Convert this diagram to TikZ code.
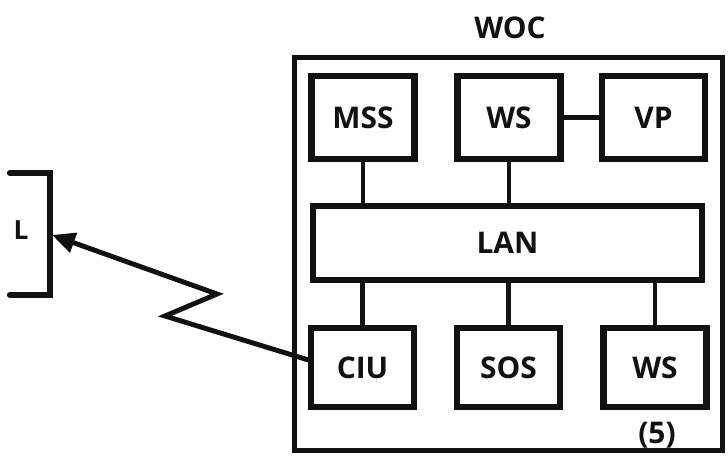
\documentclass[tikz,border=0pt]{standalone}
\usepackage{fontspec}
\setmainfont{Open Sans}
\usepackage{xcolor}
\usepackage{tikz}
\usetikzlibrary{arrows.meta,positioning}
\definecolor{wocInk}{HTML}{111111}
\tikzset{
  woc diagram/.style={font=\fontsize{17}{20}\selectfont\bfseries, text=wocInk,
    line cap=round, line join=miter},
  woc box/.style={draw=wocInk, fill=white, line width=3.6pt,
    minimum width=2.06cm, minimum height=1.66cm, inner sep=0pt},
  woc low box/.style={woc box, minimum height=1.58cm},
  woc frame/.style={draw=wocInk, line width=3pt, inner sep=0pt},
  woc link/.style={draw=wocInk, line width=2.6pt},
  woc arrow/.style={-{Triangle[length=4.6mm,width=4mm]}, draw=wocInk,
    line width=2.8pt, line join=miter},
  woc label/.style={inner sep=0pt}
}
\begin{document}
\begin{tikzpicture}[woc diagram, x=0.02cm, y=-0.02cm]
\useasboundingbox (0,0) rectangle (728,460);
% outer frame of the centre
\node[woc frame, minimum width=8.56cm, minimum height=7.86cm] (woc) at (508.5,254) {};
\node[woc label] (woctitle) at (510,28) {WOC};
% upper row
\node[woc box] (mss) at (363,117.5) {MSS};
\node[woc box] (ws) at (509,117.5) {WS};
\node[woc box] (vp) at (653.5,117.5) {VP};
% network bar
\node[woc box, minimum width=7.78cm, minimum height=1.48cm] (lan) at (507.5,243) {LAN};
% lower row
\node[woc low box] (ciu) at (362.5,367.5) {CIU};
\node[woc low box] (sos) at (508.5,367.5) {SOS};
\node[woc low box] (wsn) at (655,367.5) {WS};
\node[woc label] (count) at (657,435) {(5)};
% links
\draw[woc link] (ws.east) -- (vp.west);
\draw[woc link] (mss.south) -- (mss.south |- lan.north);
\draw[woc link] (ws.south) -- (ws.south |- lan.north);
\draw[woc link] (ciu.north) -- (ciu.north |- lan.south);
\draw[woc link] (sos.north) -- (sos.north |- lan.south);
\draw[woc link] (wsn.north) -- (wsn.north |- lan.south);
% remote site, cut at the edge
\node[woc label, font=\fontsize{15}{18}\selectfont\bfseries] (remote) at (21,230) {L};
\coordinate (remote port) at (52,235);
\draw[woc box, fill=none] (10,173) -- (50,173) -- (50,295) -- (10,295);
% radio link
\draw[woc arrow] (ciu.172) -- (165,316) -- (217,294) -- (remote port);
\end{tikzpicture}
\end{document}
